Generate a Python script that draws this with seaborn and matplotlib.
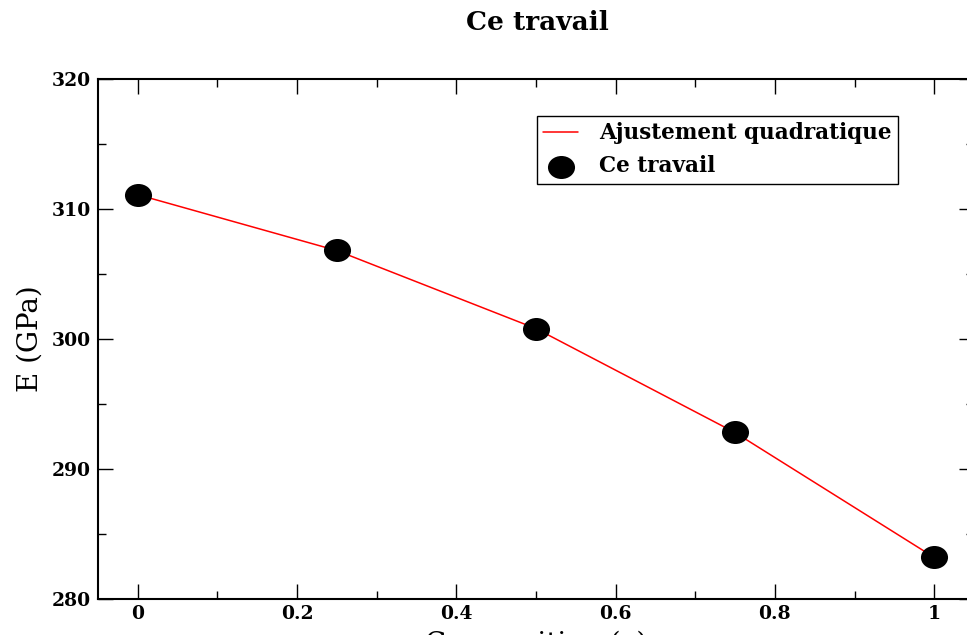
import numpy as np
import pandas as pd
import matplotlib
matplotlib.use("Agg")
import matplotlib.pyplot as plt
from matplotlib.path import Path
from matplotlib.markers import MarkerStyle
from matplotlib.ticker import MultipleLocator
import seaborn as sns

# Composition and Young's modulus values
composition = [0.0, 0.25, 0.5, 0.75, 1.0]
modulus_gpa = [311.08, 306.85, 300.77, 292.85, 283.23]
fit_gpa = [311.1, 306.8, 300.8, 292.8, 283.2]

x_ticks = [0, 0.2, 0.4, 0.6, 0.8, 1]
x_tick_labels = ["0", "0.2", "0.4", "0.6", "0.8", "1"]
y_ticks = [280, 290, 300, 310, 320]
y_tick_labels = ["280", "290", "300", "310", "320"]

sns.set_theme(style="ticks")
plt.rcParams["font.family"] = ["DejaVu Serif"]
plt.rcParams["text.color"] = "black"
plt.rcParams["axes.labelcolor"] = "black"
plt.rcParams["xtick.color"] = "black"
plt.rcParams["ytick.color"] = "black"

df = pd.DataFrame({"x": composition, "E": modulus_gpa, "fit": fit_gpa})

fig = plt.figure(figsize=(9.67, 6.35), dpi=100)
ax = fig.add_axes([98 / 967, 36 / 635, (974 - 98) / 967, (599 - 79) / 635])

# slightly flattened disc marker
circ = Path.unit_circle()
ell = Path(circ.vertices * np.array([1.0, 0.85]), circ.codes)
disc = MarkerStyle(ell)

sns.lineplot(data=df, x="x", y="fit", ax=ax, color="#ff0000", linewidth=1.1,
             label="Ajustement quadratique")
sns.scatterplot(data=df, x="x", y="E", ax=ax, marker=disc, s=19.5 ** 2,
                color="black", edgecolor="black", linewidth=0, label="Ce travail",
                zorder=3)

ax.set_xlim(-0.05, 1.05)
ax.set_ylim(280, 320)
ax.set_xticks(x_ticks)
ax.set_xticklabels(x_tick_labels)
ax.set_yticks(y_ticks)
ax.set_yticklabels(y_tick_labels)
ax.xaxis.set_minor_locator(MultipleLocator(0.1))
ax.yaxis.set_minor_locator(MultipleLocator(5))

for s in ax.spines.values():
    s.set_visible(True)
    s.set_linewidth(1.5)
    s.set_color("black")

ax.tick_params(which="both", direction="in", top=True, right=True,
               colors="black", width=1.0)
ax.tick_params(which="major", length=11, labelsize=13.5)
ax.tick_params(axis="y", which="major", pad=5)
ax.tick_params(axis="x", which="major", pad=4)
ax.tick_params(which="minor", length=6)
for lab in ax.get_xticklabels() + ax.get_yticklabels():
    lab.set_fontweight("bold")

ax.set_xlabel("Composition (x)", fontsize=20, labelpad=6)
ax.set_ylabel("E (GPa)", fontsize=20, labelpad=6)
fig.text(537 / 967, 1 - 22 / 635, "Ce travail", ha="center", va="center",
         fontsize=19, fontweight="bold")

leg = ax.legend(loc="upper left", bbox_to_anchor=(537 / 967, 1 - 116 / 635),
                bbox_transform=fig.transFigure, frameon=True, fancybox=False,
                edgecolor="black", framealpha=1, borderpad=0.3,
                borderaxespad=0, handlelength=1.6, handletextpad=1.0,
                labelspacing=0.5, prop={"size": 15.5, "weight": "bold"},
                markerscale=1.0)
leg.get_frame().set_linewidth(1.0)

fig.savefig("out.png", dpi=100)
